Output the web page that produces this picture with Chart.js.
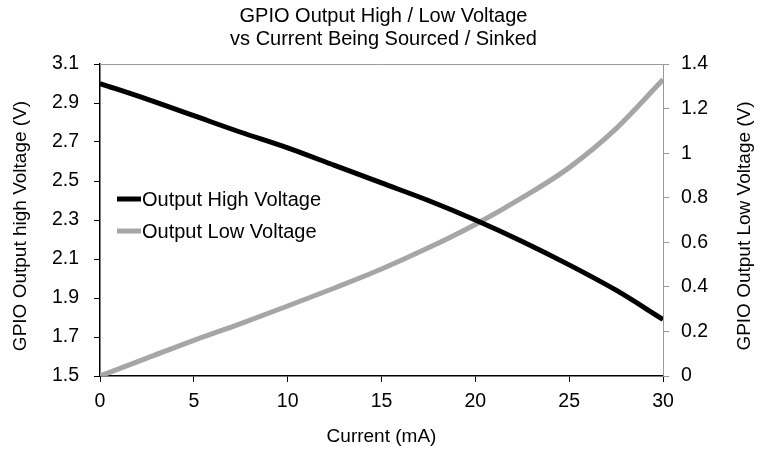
<!DOCTYPE html>
<html>
<head>
<meta charset="utf-8">
<script src="https://cdn.jsdelivr.net/npm/chart.js@4"></script>
<style>
    html, body { margin: 0; padding: 0; background: #fff; }
    #wrap { width: 767px; height: 460px; }
</style>
</head>
<body>
<div id="wrap"><canvas id="gpioChart" width="767" height="460"></canvas></div>
<script>
// Data
const currents = [0, 2.5, 5, 7.5, 10, 12.5, 15, 17.5, 20, 22.5, 25, 27.5, 30];
const highVoltage = [3.00, 2.92, 2.835, 2.75, 2.67, 2.58, 2.49, 2.40, 2.30, 2.19, 2.07, 1.94, 1.79];
const lowVoltage = [0, 0.08, 0.16, 0.235, 0.314, 0.395, 0.48, 0.575, 0.68, 0.80, 0.935, 1.11, 1.33];
const seriesNames = ['Output High Voltage', 'Output Low Voltage'];
const axisTitles = ['GPIO Output high Voltage (V)', 'GPIO Output Low Voltage (V)'];
const xTicks = [0, 5, 10, 15, 20, 25, 30];
const leftTicks = [1.5, 1.7, 1.9, 2.1, 2.3, 2.5, 2.7, 2.9, 3.1];
const rightTicks = [0, 0.2, 0.4, 0.6, 0.8, 1, 1.2, 1.4];

const FONT = "'Liberation Sans', Arial, sans-serif";
Chart.defaults.font.family = FONT;
Chart.defaults.color = '#000';

const GRAY = '#a6a6a6';
const AXIS_GRAY = '#9a9a9a';

// Top border, both y axis titles (read bottom to top) and the legend inside the plot
const framePlugin = {
    id: 'frame',
    beforeDatasetsDraw(chart) {
        const { ctx, chartArea: a } = chart;
        ctx.save();
        ctx.strokeStyle = AXIS_GRAY;
        ctx.lineWidth = 1;
        ctx.beginPath();
        ctx.moveTo(a.left, a.top + 0.5);
        ctx.lineTo(a.right, a.top + 0.5);
        ctx.stroke();

        ctx.font = '19px ' + FONT;
        ctx.fillStyle = '#000';
        ctx.textAlign = 'center';
        ctx.textBaseline = 'middle';
        const cy = (a.top + a.bottom) / 2 + 6;
        [[21, axisTitles[0]], [745, axisTitles[1]]].forEach(([x, text]) => {
            ctx.save();
            ctx.translate(x, cy);
            ctx.rotate(-Math.PI / 2);
            ctx.fillText(text, 0, 0);
            ctx.restore();
        });
        ctx.restore();
    },
    afterDatasetsDraw(chart) {
        const { ctx, chartArea: a } = chart;
        ctx.save();
        ctx.font = '20px ' + FONT;
        ctx.textBaseline = 'middle';
        chart.data.datasets.forEach((ds, i) => {
            const y = a.top + 135 + i * 32;
            const x = a.left + 17;
            ctx.strokeStyle = ds.borderColor;
            ctx.lineWidth = 5;
            ctx.beginPath();
            ctx.moveTo(x, y);
            ctx.lineTo(x + 24, y);
            ctx.stroke();
            ctx.fillStyle = '#000';
            ctx.fillText(ds.label, x + 25, y + 1);
        });
        ctx.restore();
    }
};

function createChart() {
    const ctx = document.getElementById('gpioChart').getContext('2d');
    new Chart(ctx, {
        type: 'line',
        data: {
            datasets: [{
                label: seriesNames[0],
                data: currents.map((c, i) => ({ x: c, y: highVoltage[i] })),
                borderColor: '#000',
                borderWidth: 5,
                pointRadius: 0,
                tension: 0.4,
                cubicInterpolationMode: 'monotone',
                yAxisID: 'y'
            }, {
                label: seriesNames[1],
                data: currents.map((c, i) => ({ x: c, y: lowVoltage[i] })),
                borderColor: GRAY,
                borderWidth: 5,
                pointRadius: 0,
                tension: 0.4,
                cubicInterpolationMode: 'monotone',
                yAxisID: 'y1'
            }]
        },
        options: {
            responsive: false,
            animation: false,
            layout: { padding: 0 },
            plugins: {
                legend: { display: false },
                tooltip: { enabled: false },
                title: {
                    display: true,
                    text: ['GPIO Output High / Low Voltage', 'vs Current Being Sourced / Sinked'],
                    font: { size: 20, weight: 'normal', lineHeight: 1.15 },
                    color: '#000',
                    padding: { top: 5, bottom: 13 }
                }
            },
            scales: {
                x: {
                    type: 'linear',
                    min: 0,
                    max: 30,
                    afterBuildTicks: s => { s.ticks = xTicks.map(v => ({ value: v })); },
                    afterFit: s => { s.height = 84; },
                    ticks: { font: { size: 19.5 }, padding: 8, maxRotation: 0 },
                    grid: { drawOnChartArea: false, color: '#000', tickLength: 6 },
                    border: { color: '#000', width: 1.5 },
                    title: {
                        display: true,
                        text: 'Current (mA)',
                        font: { size: 19 },
                        padding: { top: 0, bottom: 12 }
                    }
                },
                y: {
                    position: 'left',
                    min: 1.5,
                    max: 3.1,
                    afterBuildTicks: s => { s.ticks = leftTicks.map(v => ({ value: v })); },
                    afterFit: s => { s.width = 100; },
                    ticks: { font: { size: 19.5 }, padding: 15, callback: v => v.toFixed(1) },
                    grid: { drawOnChartArea: false, color: '#000', tickLength: 6 },
                    border: { color: '#000', width: 1.5 }
                },
                y1: {
                    position: 'right',
                    min: 0,
                    max: 1.4,
                    afterBuildTicks: s => { s.ticks = rightTicks.map(v => ({ value: v })); },
                    afterFit: s => { s.width = 104; },
                    ticks: { font: { size: 19.5 }, padding: 12, callback: v => String(Number(v.toFixed(1))) },
                    grid: { drawOnChartArea: false, color: AXIS_GRAY, tickLength: 6 },
                    border: { color: AXIS_GRAY, width: 1 }
                }
            }
        },
        plugins: [framePlugin]
    });
}

document.addEventListener('DOMContentLoaded', createChart);
</script>
</body>
</html>
